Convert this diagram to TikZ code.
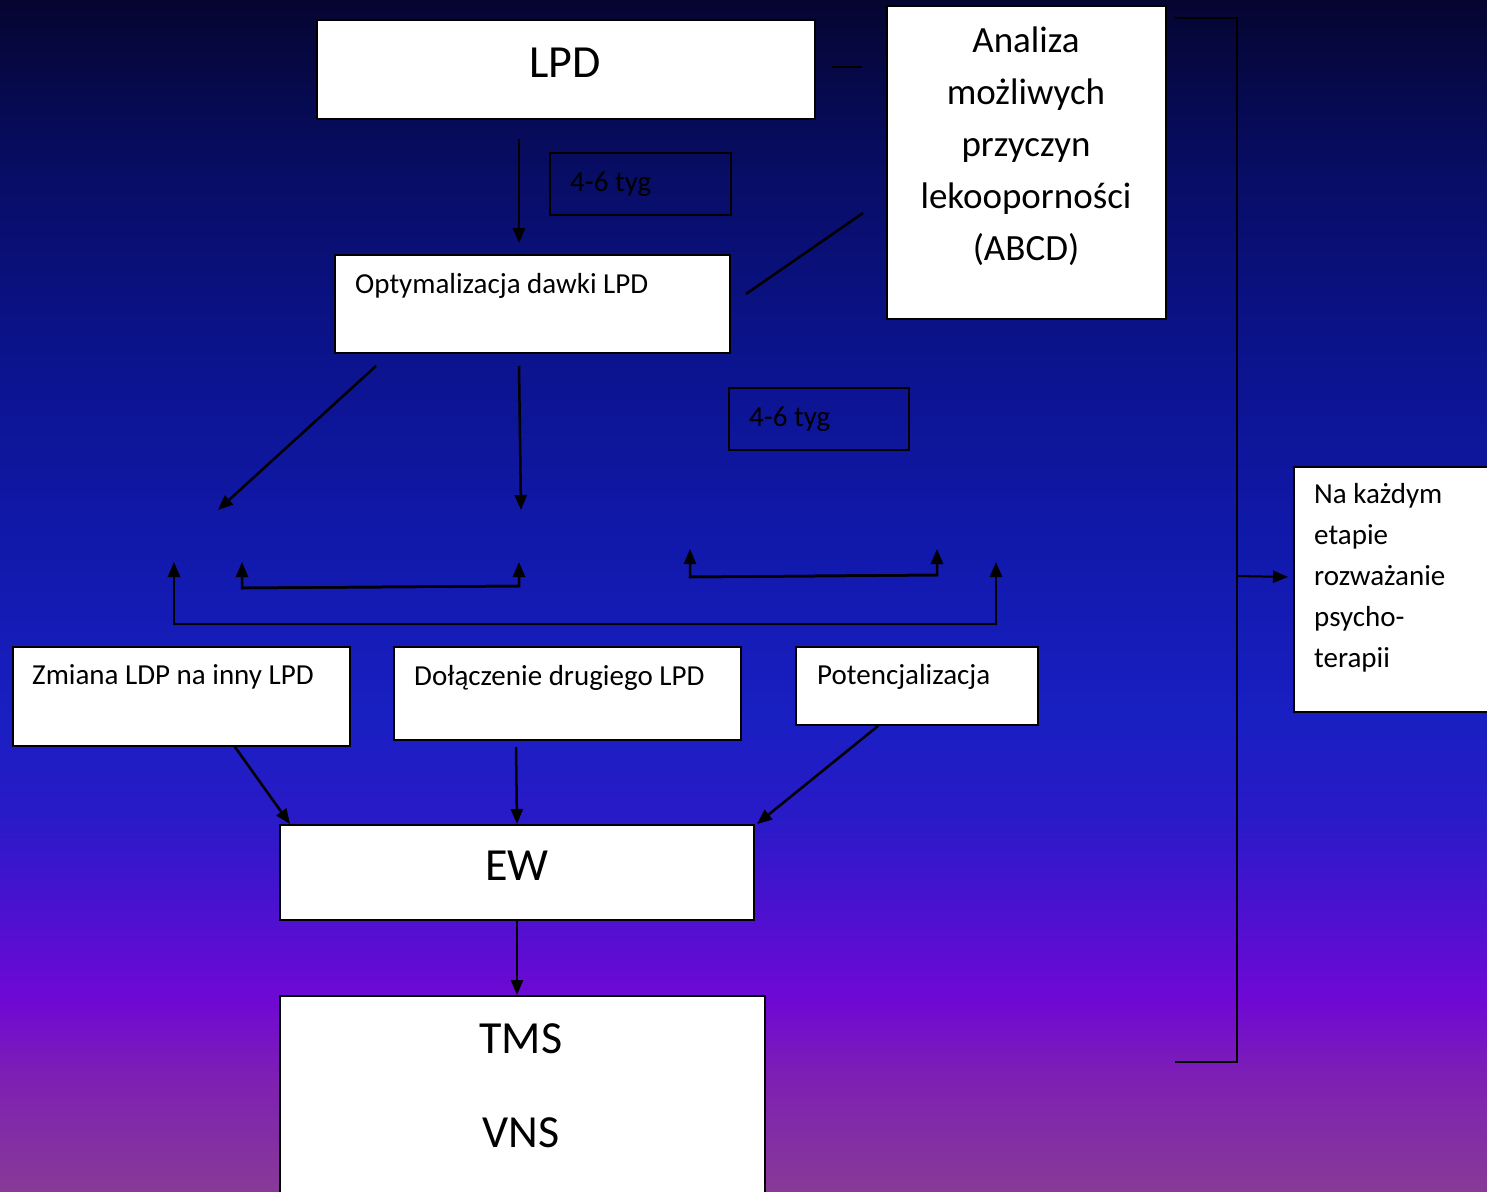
\documentclass[tikz,border=0pt]{standalone}
\usepackage{fontspec}
\setmainfont{Carlito}
\usetikzlibrary{arrows.meta}
\definecolor{g0}{RGB}{5,5,48}
\definecolor{g1}{RGB}{7,12,95}
\definecolor{g2}{RGB}{11,19,140}
\definecolor{g3}{RGB}{17,25,172}
\definecolor{g4}{RGB}{25,31,194}
\definecolor{g5}{RGB}{42,26,200}
\definecolor{g6}{RGB}{72,18,206}
\definecolor{g7}{RGB}{112,8,212}
\definecolor{g8}{RGB}{126,32,178}
\definecolor{g9}{RGB}{136,58,150}
\tikzset{
  box/.style={draw=black, fill=white, line width=2pt, inner sep=0pt, anchor=north west},
  tbox/.style={draw=black, line width=2pt, inner sep=0pt, anchor=north west},
  arr/.style={line width=2.5pt, -{Triangle[length=15pt,width=12pt]}},
  ln/.style={line width=2.5pt},
  txt/.style={inner sep=0pt, anchor=base west, font=\fontsize{29}{35}\selectfont},
  big/.style={inner sep=0pt, anchor=base, font=\fontsize{46}{55}\selectfont},
  mid/.style={inner sep=0pt, anchor=base, font=\fontsize{37}{44}\selectfont},
  sml/.style={inner sep=0pt, anchor=base west, font=\fontsize{29}{34}\selectfont}
}
\begin{document}
\begin{tikzpicture}[x=1pt,y=-1pt]
\useasboundingbox (0,0) rectangle (1487,1191);
\clip (0,0) rectangle (1487,1191);
% background gradient
\shade[top color=g0,bottom color=g1] (0,-1) rectangle (1487,151);
\shade[top color=g1,bottom color=g2] (0,150) rectangle (1487,351);
\shade[top color=g2,bottom color=g3] (0,350) rectangle (1487,551);
\shade[top color=g3,bottom color=g4] (0,550) rectangle (1487,721);
\shade[top color=g4,bottom color=g5] (0,720) rectangle (1487,821);
\shade[top color=g5,bottom color=g6] (0,820) rectangle (1487,901);
\shade[top color=g6,bottom color=g7] (0,900) rectangle (1487,1001);
\shade[top color=g7,bottom color=g8] (0,1000) rectangle (1487,1081);
\shade[top color=g8,bottom color=g9] (0,1080) rectangle (1487,1192);

% boxes
\node[box, minimum width=498pt, minimum height=99pt] (lpd) at (316,19) {};
\node[box, minimum width=279pt, minimum height=313pt] (an) at (886,5) {};
\node[tbox, minimum width=181pt, minimum height=62pt] (t1) at (549,152) {};
\node[box, minimum width=395pt, minimum height=98pt] (opt) at (334,254) {};
\node[tbox, minimum width=180pt, minimum height=62pt] (t2) at (728,387) {};
\node[box, minimum width=337pt, minimum height=99pt] (zm) at (12,646) {};
\node[box, minimum width=347pt, minimum height=93pt] (dol) at (393,646) {};
\node[box, minimum width=242pt, minimum height=78pt] (pot) at (795,646) {};
\node[box, minimum width=474pt, minimum height=95pt] (ew) at (279,824) {};
\node[box, minimum width=485pt, minimum height=215pt] (tms) at (279,995) {};
\node[box, minimum width=215pt, minimum height=245pt] (na) at (1293,466) {};

% texts
\node[big] (lpdT) at (565,77) {LPD};
\node[mid] (an1) at (1026,52) {Analiza};
\node[mid] (an2) at (1026,104) {możliwych};
\node[mid] (an3) at (1026,156) {przyczyn};
\node[mid] (an4) at (1026,208) {lekooporności};
\node[mid] (an5) at (1026,260) {(ABCD)};
\node[txt] (t1T) at (570,191) {4-6 tyg};
\node[txt] (t2T) at (749,426) {4-6 tyg};
\node[txt] (optT) at (355,293) {Optymalizacja dawki LPD};
\node[txt] (zmT) at (32,684) {Zmiana LDP na inny LPD};
\node[txt] (dolT) at (414,685) {Dołączenie drugiego LPD};
\node[txt] (potT) at (817,684) {Potencjalizacja};
\node[big] (ewT) at (517,880) {EW};
\node[big] (tmsT) at (521,1053) {TMS};
\node[big] (vnsT) at (521,1147) {VNS};
\node[sml] (na1) at (1314,503) {Na każdym};
\node[sml] (na2) at (1314,544) {etapie};
\node[sml] (na3) at (1314,585) {rozważanie};
\node[sml] (na4) at (1314,626) {psycho-};
\node[sml] (na5) at (1314,667) {terapii};

% free coordinates
\coordinate (c1a) at (832,67);
\coordinate (c1b) at (862,67);
\coordinate (c2a) at (746,294);
\coordinate (c2b) at (863,213);
\coordinate (o1) at (218,510);
\coordinate (o2) at (521,510);
\coordinate (b1l) at (174,624);
\coordinate (b1r) at (996,624);
\coordinate (b1lt) at (174,562);
\coordinate (b1rt) at (996,562);
\coordinate (b2l) at (242,588);
\coordinate (b2r) at (519,586);
\coordinate (b2lt) at (242,562);
\coordinate (b2rt) at (519,562);
\coordinate (b3l) at (690,577);
\coordinate (b3r) at (937,575);
\coordinate (b3lt) at (690,549);
\coordinate (b3rt) at (937,549);
\coordinate (r1) at (1175,18);
\coordinate (r2) at (1237,18);
\coordinate (r3) at (1237,1062);
\coordinate (r4) at (1175,1062);
\coordinate (rm) at (1237,576);
\coordinate (naIn) at (1288,577);

% connectors
\draw[ln] (c1a) -- (c1b);
\draw[ln] (c2a) -- (c2b);
\draw[arr] ([xshift=203pt,yshift=-19pt]lpd.south west) -- ([xshift=185pt,yshift=11pt]opt.north west);
\draw[arr] ([xshift=42pt,yshift=-12pt]opt.south west) -- (o1);
\draw[arr] ([xshift=185pt,yshift=-12pt]opt.south west) -- (o2);
\draw[arr] (b1r) -- (b1l) -- (b1lt);
\draw[arr] (b1l) -- (b1r) -- (b1rt);
\draw[arr] (b2r) -- (b2l) -- (b2lt);
\draw[arr] (b2l) -- (b2r) -- (b2rt);
\draw[arr] (b3r) -- (b3l) -- (b3lt);
\draw[arr] (b3l) -- (b3r) -- (b3rt);
\draw[arr] ([xshift=223pt]zm.south west) -- ([xshift=11pt]ew.north west);
\draw[arr] ([xshift=123pt,yshift=-6pt]dol.south west) -- (ew.north);
\draw[arr] ([xshift=83pt]pot.south west) -- ([xshift=2pt]ew.north east);
\draw[arr] (ew.south) -- (ew.south |- tms.north);
\draw[ln, line width=2pt] (r1) -- (r2) -- (r3) -- (r4);
\draw[arr, line width=2pt] (rm) -- (naIn);
\end{tikzpicture}
\end{document}
